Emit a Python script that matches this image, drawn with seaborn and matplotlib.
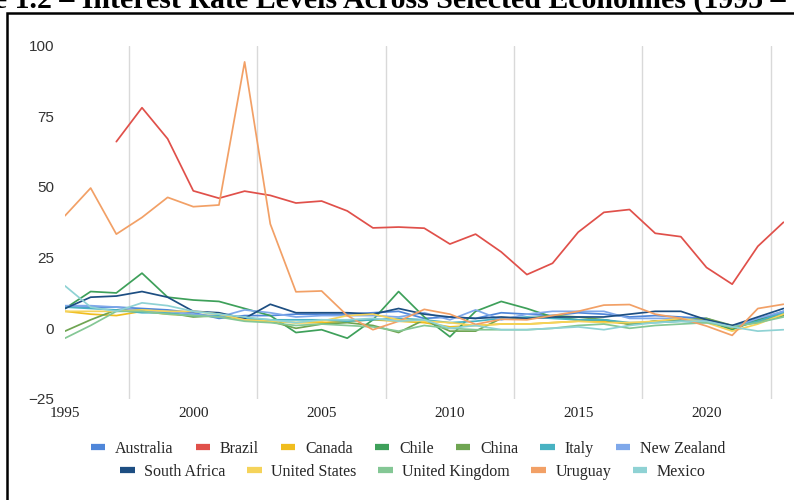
import numpy as np
import pandas as pd
import matplotlib
matplotlib.use("Agg")
import matplotlib.pyplot as plt
from matplotlib.lines import Line2D
from matplotlib.patches import Rectangle
import seaborn as sns

years = list(range(1995, 2024))
nan = np.nan

australia = [7.5, 7.5, 7.5, 7.0, 6.5, 5.5, 3.5, 4.5, 4.5, 5.0, 5.0, 5.0, 5.5, 6.0, 3.5, 4.0,
             3.5, 5.5, 5.0, 4.5, 5.5, 5.0, 4.0, 4.5, 4.0, 3.5, 0.5, 3.0, 6.0]
brazil = [nan, nan, 66.0, 78.0, 67.0, 48.6, 46.0, 48.5, 47.0, 44.3, 45.0, 41.5, 35.5, 35.8, 35.4,
          29.8, 33.3, 27.0, 19.0, 23.0, 34.0, 41.0, 42.0, 33.6, 32.4, 21.5, 15.6, 29.0, 37.5]
canada = [6.0, 5.0, 4.5, 6.0, 5.0, 4.5, 4.5, 3.0, 2.5, 2.0, 2.0, 2.5, 3.0, 2.5, 2.0, 0.5,
          1.0, 1.5, 1.5, 2.0, 2.5, 2.5, 1.5, 2.5, 3.0, 3.0, 0.0, 2.5, 5.0]
chile = [7.0, 13.0, 12.5, 19.5, 11.0, 10.0, 9.5, 7.0, 4.5, -1.5, -0.5, -3.5, 3.0, 13.0, 4.0,
         -3.0, 6.0, 9.5, 7.0, 4.0, 3.0, 3.0, 1.5, 2.5, 2.5, 2.5, -0.5, 3.0, 5.0]
china = [-1.0, 3.0, 6.5, 6.5, 5.5, 4.0, 4.5, 3.5, 2.5, 0.0, 1.5, 2.0, 1.0, -1.5, 3.0,
         -1.0, -1.0, 3.5, 3.5, 4.5, 4.0, 3.0, 1.5, 2.5, 3.0, 3.5, 1.0, 2.0, 4.5]
italy = [7.5, 7.0, 6.5, 5.5, 5.5, 4.5, 4.5, 3.5, 3.0, 3.0, 3.0, 2.5, 3.0, 3.5, 3.0, 2.0,
         2.5, 3.5, 4.0, 3.5, 3.0, 3.0, 2.0, 2.0, 2.5, 2.0, 0.5, 2.5, 5.5]
new_zealand = [8.0, 8.0, 7.5, 6.0, 6.0, 5.0, 4.0, 6.5, 5.5, 4.0, 4.5, 4.5, 4.5, 4.0, 5.5,
               3.0, 6.5, 3.0, 5.0, 6.0, 6.0, 6.0, 3.5, 3.5, 3.5, 2.5, 0.5, 3.5, 6.0]
south_africa = [7.0, 11.0, 11.4, 13.0, 11.0, 6.0, 5.5, 3.5, 8.5, 5.5, 5.5, 5.5, 5.0, 7.0, 5.0,
                4.0, 3.5, 4.0, 3.5, 4.0, 4.0, 4.0, 5.0, 6.0, 6.0, 3.0, 1.0, 4.0, 7.0]
united_states = [6.0, 6.0, 6.0, 6.5, 6.0, 6.0, 5.0, 3.0, 2.5, 2.0, 2.5, 4.5, 5.0, 3.0, 2.5,
                 2.0, 1.0, 1.5, 1.5, 2.0, 2.5, 2.0, 2.0, 2.5, 3.5, 2.0, -1.0, 1.5, 5.0]
united_kingdom = [-3.5, 1.0, 6.0, 6.0, 5.0, 4.5, 4.0, 2.5, 2.0, 1.0, 1.5, 1.0, 0.5, -1.0, 1.0,
                  0.0, -0.5, -0.5, -0.5, 0.0, 1.0, 1.5, 0.0, 1.0, 1.5, 2.0, 0.5, 2.0, 4.0]
uruguay = [39.8, 49.6, 33.3, 39.2, 46.3, 43.0, 43.6, 94.2, 36.9, 12.9, 13.2, 4.5, -0.5, 2.5,
           6.7, 5.0, 1.4, 3.2, 3.0, 4.5, 6.0, 8.2, 8.4, 5.0, 3.5, 0.8, -2.5, 7.0, 8.5]
mexico = [15.0, 7.5, 6.0, 9.0, 8.0, 6.0, 5.0, 4.0, 3.0, 2.0, 3.0, 3.0, 3.5, 2.5, 3.0, 0.0,
          1.0, -0.5, -0.5, 0.0, 0.5, -0.5, 1.0, 2.0, 2.5, 2.5, 0.5, -1.0, -0.5]

countries = ["Australia", "Brazil", "Canada", "Chile", "China", "Italy", "New Zealand",
             "South Africa", "United States", "United Kingdom", "Uruguay", "Mexico"]
series = [australia, brazil, canada, chile, china, italy, new_zealand,
          south_africa, united_states, united_kingdom, uruguay, mexico]
colors = ["#4f86d9", "#e0504a", "#f0bd1e", "#3ea05a", "#6fa552", "#48b2c2", "#7fa8ea",
          "#1d4e82", "#f5d35a", "#84c795", "#f2a066", "#8fd2d4"]
palette = dict(zip(countries, colors))

df = pd.DataFrame({
    "year": np.tile(years, len(countries)),
    "rate": np.concatenate([np.asarray(s, dtype=float) for s in series]),
    "country": np.repeat(countries, len(years)),
})

sns.set_theme(style="white")
plt.rcParams["font.family"] = ["Liberation Serif", "DejaVu Serif"]

fig = plt.figure(figsize=(7.94, 5.00), dpi=100)
ax = fig.add_axes([65 / 794, 101 / 500, 718.5 / 794, 353.5 / 500])

sns.lineplot(data=df, x="year", y="rate", hue="country", hue_order=countries,
             palette=palette, linewidth=1.25, legend=False, estimator=None, ax=ax)

ax.set_xlim(1995, 2023)
ax.set_ylim(-25, 100)
ax.set_xticks(range(1995, 2021, 5))
ax.set_xticks(np.arange(1997.5, 2023, 5), minor=True)
ax.set_yticks([-25, 0, 25, 50, 75, 100])
ax.grid(False)
ax.grid(which="minor", axis="x", color="#d9d9d9", linewidth=1.0)
ax.tick_params(which="both", length=0)
ax.tick_params(axis="x", pad=6, labelsize=11, labelcolor="#222222")
ax.tick_params(axis="y", pad=8, labelsize=11, labelcolor="#333333")
for lab in ax.get_yticklabels():
    lab.set_family("Liberation Sans")
ax.set_xlabel("")
ax.set_ylabel("")
for sp in ax.spines.values():
    sp.set_visible(False)

# two-row legend below the plot
def handles_for(names):
    return [Line2D([0], [0], color=palette[n], lw=4.5, solid_capstyle="butt") for n in names]

row1 = countries[:7]
row2 = countries[7:]
fig.legend(handles_for(row1), row1, loc="center", ncol=7,
           bbox_to_anchor=(408 / 794, 1 - 449 / 500), frameon=False,
           fontsize=11.5, handlelength=0.9, handletextpad=0.6, columnspacing=1.4)
fig.legend(handles_for(row2), row2, loc="center", ncol=5,
           bbox_to_anchor=(413 / 794, 1 - 472 / 500), frameon=False,
           fontsize=11.5, handlelength=0.9, handletextpad=0.6, columnspacing=1.35)

# frame around the chart
fig.patches.append(Rectangle((6.5 / 794, -0.1), 1.2, (500 - 12.5) / 500 + 0.1,
                             transform=fig.transFigure, fill=False,
                             edgecolor="black", linewidth=1.8))

# caption above the frame
fig.text(-77 / 794, 1 - 8 / 500,
         "Figure 1.2 – Interest Rate Levels Across Selected Economies (1995 – 2023)",
         fontsize=21.5, fontweight="bold", ha="left", va="baseline", color="black")

fig.savefig("out.png", dpi=100)
